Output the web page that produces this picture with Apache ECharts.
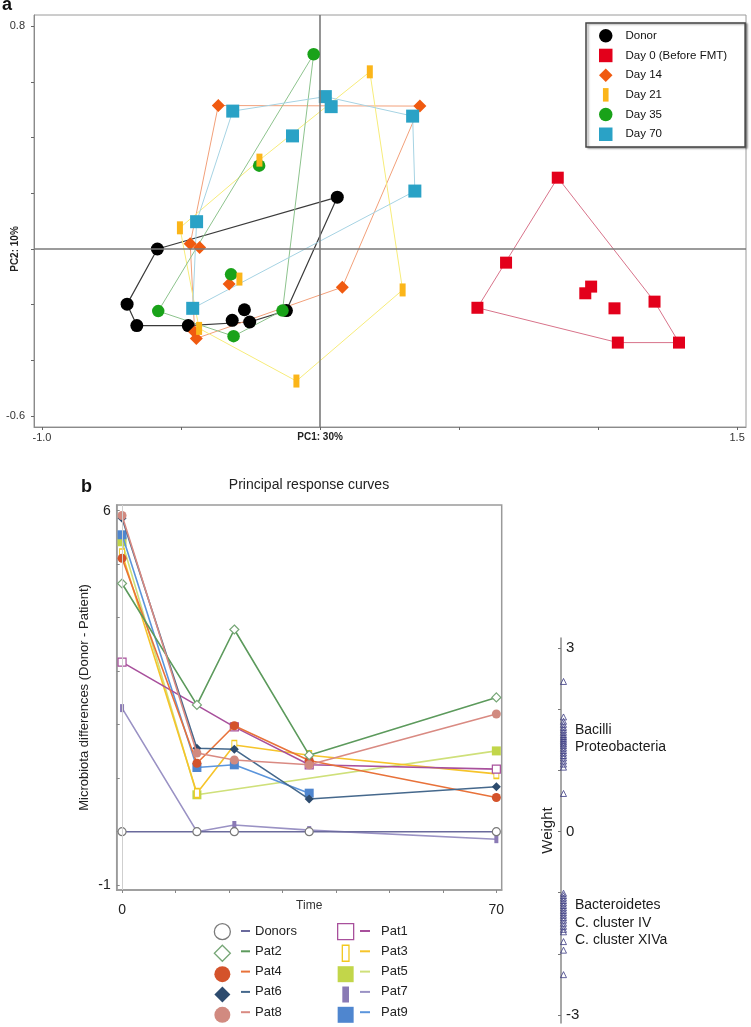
<!DOCTYPE html>
<html><head><meta charset="utf-8">
<script src="https://cdn.jsdelivr.net/npm/echarts@6/dist/echarts.min.js"></script>
<style>html,body{margin:0;padding:0;background:#fff}#c{width:751px;height:1027px}</style>
</head><body><div id="c"></div>
<script>
// ---------- Panel a: PCA scores ----------
const groupNames = ['Donor', 'Day 0 (Before FMT)', 'Day 14', 'Day 21', 'Day 35', 'Day 70'];
const donorPts = [[-0.585,0.0],[-0.694,-0.198],[-0.659,-0.275],[-0.474,-0.275],[-0.316,-0.256],[-0.272,-0.218],[-0.253,-0.262],[-0.121,-0.221],[0.062,0.186]];
const day0Pts = [[0.855,0.256],[0.669,-0.049],[0.566,-0.211],[0.975,-0.135],[0.954,-0.159],[1.059,-0.213],[1.203,-0.189],[1.071,-0.336],[1.291,-0.336]];
const day14Pts = [[-0.366,0.515],[0.359,0.513],[-0.467,0.019],[-0.433,0.005],[-0.327,-0.126],[0.080,-0.137],[-0.451,-0.298],[-0.445,-0.321]];
const day21Pts = [[0.179,0.636],[-0.218,0.319],[-0.504,0.076],[-0.290,-0.108],[0.297,-0.147],[-0.435,-0.285],[-0.085,-0.474]];
const day35Pts = [[-0.023,0.699],[-0.219,0.299],[-0.320,-0.091],[-0.582,-0.223],[-0.311,-0.313],[-0.135,-0.221]];
const day70Pts = [[-0.314,0.495],[0.019,0.547],[0.040,0.511],[0.333,0.477],[-0.099,0.406],[0.341,0.208],[-0.444,0.098],[-0.458,-0.213]];
const pcaXTicks = [-1, -0.5, 0, 0.5, 1, 1.5];
const pcaXLabels = [-1, 0, 1.5];
const pcaYTicks = [-0.6, -0.4, -0.2, 0, 0.2, 0.4, 0.6, 0.8];
const pcaYLabels = [-0.6, 0.8];

// ---------- Panel b: principal response curves ----------
const times = [0, 14, 21, 35, 70];
const donors = [0, 0, 0, 0, 0];
const pat1 = [3.17, null, 1.96, 1.25, 1.17];
const pat2 = [4.64, 2.37, 3.78, 1.43, 2.51];
const pat3 = [5.20, 0.72, 1.62, 1.43, 1.08];
const pat4 = [5.11, 1.28, 1.98, 1.33, 0.64];
const pat5 = [5.42, 0.69, null, null, 1.51];
const pat6 = [5.86, 1.56, 1.54, 0.61, 0.84];
const pat7 = [2.31, 0.00, 0.125, 0.03, -0.14];
const pat8 = [5.91, 1.47, 1.34, 1.25, 2.20];
const pat9 = [5.55, 1.20, 1.25, 0.72, null];
const prcYTicks = [-1, 0, 1, 2, 3, 4, 5, 6];
const prcYLabels = [-1, 6];
const prcXTicks = [0, 10, 20, 30, 40, 50, 60, 70];
const prcXLabels = [0, 70];

// ---------- Species weights ----------
const weights = [2.45, 1.87, 1.80, 1.75, 1.70, 1.66, 1.62, 1.58, 1.55, 1.52, 1.49, 1.46, 1.43, 1.40, 1.36, 1.32, 1.28, 1.24, 1.20, 1.15, 1.10, 1.05, 0.62,
  -1.01, -1.05, -1.09, -1.13, -1.17, -1.21, -1.25, -1.29, -1.33, -1.37, -1.41, -1.45, -1.50, -1.55, -1.60, -1.64, -1.80, -1.94, -2.34];
const taxonLabels = ['Bacilli', 'Proteobacteria', 'Bacteroidetes', 'C. cluster IV', 'C. cluster XIVa'];
const taxonWeights = [1.65, 1.38, -1.20, -1.50, -1.77];
const weightTicks = [-3, -2, -1, 0, 1, 2, 3];
const weightLabels = [-3, 0, 3];

// ---------- helpers ----------
function hull(pts) {
  const p = pts.slice().sort((a, b) => a[0] - b[0] || a[1] - b[1]);
  const cross = (o, a, b) => (a[0] - o[0]) * (b[1] - o[1]) - (a[1] - o[1]) * (b[0] - o[0]);
  const lower = [], upper = [];
  for (const q of p) { while (lower.length >= 2 && cross(lower[lower.length - 2], lower[lower.length - 1], q) <= 0) lower.pop(); lower.push(q); }
  for (let i = p.length - 1; i >= 0; i--) { const q = p[i]; while (upper.length >= 2 && cross(upper[upper.length - 2], upper[upper.length - 1], q) <= 0) upper.pop(); upper.push(q); }
  lower.pop(); upper.pop();
  const h = lower.concat(upper); h.push(h[0]); return h;
}
const FONT = 'Liberation Sans, Arial, sans-serif';

const pcaGroups = [
  { pts: donorPts, color: '#000000', line: '#3a3a3a', symbol: 'circle', size: 13, z: 3 },
  { pts: day0Pts, color: '#e3001b', line: '#d8738a', symbol: 'rect', size: 12, z: 3 },
  { pts: day14Pts, color: '#f05a10', line: '#f2a07a', symbol: 'diamond', size: 13, z: 4 },
  { pts: day21Pts, color: '#fbb519', line: '#f7ec7a', symbol: 'path://M0,0h5v12h-5z', size: [6, 13], z: 6 },
  { pts: day35Pts, color: '#19a219', line: '#8dc38d', symbol: 'circle', size: 12.5, z: 5 },
  { pts: day70Pts, color: '#2aa2c6', line: '#a6d3e3', symbol: 'rect', size: 13, z: 4 }
];
const legendIcons = ['circle', 'rect', 'diamond', 'path://M0,0h5v12h-5z', 'circle', 'rect'];

const series = [];
pcaGroups.forEach((g, i) => {
  const s = {
    type: 'line', xAxisIndex: 0, yAxisIndex: 0, data: hull(g.pts), showSymbol: false, symbol: 'none',
    lineStyle: { color: g.line, width: i === 0 ? 1.2 : 1 }, silent: true, z: 1, clip: false
  };
  if (i === 0) {
    s.markLine = { silent: true, symbol: 'none', label: { show: false }, lineStyle: { color: '#7a7a7a', width: 1.6, type: 'solid' },
      data: [{ xAxis: 0 }, { yAxis: 0 }] };
  }
  series.push(s);
});
pcaGroups.forEach((g, i) => {
  series.push({
    type: 'scatter', name: groupNames[i], xAxisIndex: 0, yAxisIndex: 0, data: g.pts,
    symbol: g.symbol, symbolSize: g.size, itemStyle: { color: g.color, opacity: 1 }, z: g.z, clip: false
  });
});

// panel b series
const prcDefs = [
  { name: 'Donors', vals: donors, symbol: 'circle', size: 8, fill: '#ffffff', border: '#7a7a7a', line: '#6a6a9c', open: true },
  { name: 'Pat1', vals: pat1, symbol: 'rect', size: 8, fill: '#ffffff', border: '#a8509c', line: '#a8509c', open: true },
  { name: 'Pat2', vals: pat2, symbol: 'diamond', size: 9, fill: '#ffffff', border: '#76a676', line: '#5c9a5c', open: true },
  { name: 'Pat3', vals: pat3, symbol: 'path://M0,0h5v12h-5z', size: [5, 9], fill: '#ffffff', border: '#f2c81e', line: '#f6c42a', open: true },
  { name: 'Pat4', vals: pat4, symbol: 'circle', size: 9, fill: '#d4532b', border: '#d4532b', line: '#e8723a' },
  { name: 'Pat5', vals: pat5, symbol: 'rect', size: 9, fill: '#c2d64a', border: '#c2d64a', line: '#cfe07a' },
  { name: 'Pat6', vals: pat6, symbol: 'diamond', size: 9, fill: '#2d4b6e', border: '#2d4b6e', line: '#45688c' },
  { name: 'Pat7', vals: pat7, symbol: 'path://M0,0h5v12h-5z', size: [4, 8], fill: '#8a7ab5', border: '#8a7ab5', line: '#9a92c4' },
  { name: 'Pat8', vals: pat8, symbol: 'circle', size: 9, fill: '#d18a80', border: '#d18a80', line: '#d98a82' },
  { name: 'Pat9', vals: pat9, symbol: 'rect', size: 9, fill: '#4f86cf', border: '#4f86cf', line: '#5b95dc' }
];
const drawOrder = ['Pat7', 'Pat5', 'Pat3', 'Pat9', 'Pat1', 'Pat4', 'Pat6', 'Pat2', 'Pat8', 'Donors'];
drawOrder.forEach((nm, k) => {
  const d = prcDefs.find(p => p.name === nm);
  const s = {
    type: 'line', name: d.name, xAxisIndex: 1, yAxisIndex: 1,
    data: times.map((t, i) => [t, d.vals[i]]).filter(v => v[1] !== null),
    symbol: d.symbol, symbolSize: d.size, showSymbol: true,
    lineStyle: { color: d.line, width: 1.6 },
    itemStyle: { color: d.fill, borderColor: d.border, borderWidth: d.open ? 1.2 : 0 },
    z: 2 + k * 0.1, clip: false
  };
  if (k === 0) {
    s.markLine = { silent: true, symbol: 'none', label: { show: false }, lineStyle: { color: '#cfcfcf', width: 1, type: 'solid' }, data: [{ xAxis: 0 }] };
  }
  series.push(s);
});

// weight strip
series.push({
  type: 'scatter', xAxisIndex: 2, yAxisIndex: 2, data: weights.map(w => [0.25, w]),
  symbol: 'triangle', symbolSize: 6, itemStyle: { color: 'rgba(255,255,255,0)', borderColor: '#3b3b82', borderWidth: 1 },
  clip: false, silent: true, z: 3
});
series.push({
  type: 'scatter', xAxisIndex: 2, yAxisIndex: 2,
  data: taxonWeights.map((w, i) => ({ value: [0.25, w], name: taxonLabels[i] })),
  symbolSize: 1, itemStyle: { color: '#ffffff' }, clip: false, silent: true, z: 1,
  label: { show: true, position: 'right', distance: 11, formatter: p => p.name, fontSize: 14, color: '#1a1a1a', opacity: 1, fontFamily: FONT }
});

const colA = ['Donors', 'Pat2', 'Pat4', 'Pat6', 'Pat8'];
const colB = ['Pat1', 'Pat3', 'Pat5', 'Pat7', 'Pat9'];
function symLegend(names, left) {
  return {
    orient: 'vertical', left: left, top: 923, itemWidth: 16, itemHeight: 16, itemGap: 4.3, padding: 0,
    selectedMode: false, formatter: () => '',
    data: names.map(n => {
      const d = prcDefs.find(p => p.name === n);
      return { name: n, icon: d.symbol, itemStyle: { color: d.open ? '#ffffff' : d.fill, borderColor: d.border, borderWidth: d.open ? 1.3 : 0 } };
    })
  };
}
function lineLegend(names, left, w, padLeft) {
  return {
    orient: 'vertical', left: left, top: 923, itemWidth: w, itemHeight: 2, itemGap: 4.3, padding: 0,
    selectedMode: false,
    textStyle: { fontSize: 13, color: '#222', fontFamily: FONT, lineHeight: 16, padding: [0, 0, 0, padLeft] },
    data: names.map(n => {
      const d = prcDefs.find(p => p.name === n);
      return { name: n, icon: 'rect', itemStyle: { color: d.line, borderWidth: 0 } };
    })
  };
}

const option = {
  animation: false,
  textStyle: { fontFamily: FONT },
  title: [
    { text: 'a', left: 2, top: -4, padding: 0, textStyle: { fontSize: 18, fontWeight: 'bold', color: '#111', fontFamily: FONT } },
    { text: 'b', left: 81, top: 478, padding: 0, textStyle: { fontSize: 18, fontWeight: 'bold', color: '#111', fontFamily: FONT } },
    { text: 'Principal response curves', left: 309, top: 478, padding: 0, textAlign: 'center', textStyle: { fontSize: 14, fontWeight: 'normal', color: '#222', fontFamily: FONT } }
  ],
  legend: [
    {
      orient: 'vertical', left: 586, top: 23, padding: [6, 18, 6, 13], itemWidth: 13.5, itemHeight: 13.5, itemGap: 6.2,
      borderColor: '#444', borderWidth: 1.5, backgroundColor: '#fff',
      shadowColor: 'rgba(0,0,0,0.35)', shadowBlur: 2, shadowOffsetX: 2, shadowOffsetY: 1,
      selectedMode: false, textStyle: { fontSize: 11.5, color: '#111', fontFamily: FONT, padding: [0, 0, 0, 8] },
      data: groupNames.map((n, i) => ({ name: n, icon: legendIcons[i] }))
    },
    symLegend(colA, 213.7), lineLegend(colA, 241, 9, 0),
    symLegend(colB, 337), lineLegend(colB, 360, 10, 6)
  ],
  grid: [
    { left: 34, top: 15, width: 712, height: 412, show: true, borderColor: '#9a9a9a', borderWidth: 1, backgroundColor: 'transparent' },
    { left: 116.7, top: 505, width: 385, height: 385, show: true, borderColor: '#9a9a9a', borderWidth: 1.5, backgroundColor: 'transparent' },
    { left: 561, top: 638, width: 10, height: 385, show: false }
  ],
  xAxis: [
    {
      gridIndex: 0, type: 'value', min: -1.0288, max: 1.532,
      axisLine: { show: true, onZero: false, lineStyle: { color: '#8a8a8a', width: 1 } },
      axisTick: { show: true, customValues: pcaXTicks, length: 3, lineStyle: { color: '#666' } },
      axisLabel: {
        show: true, customValues: pcaXLabels, margin: 5, fontSize: 11, color: '#333',
        formatter: v => (Math.abs(v) < 1e-9 ? '{b|PC1: 30%}' : v.toFixed(1)),
        rich: { b: { fontWeight: 'bold', fontSize: 10, color: '#222' } }
      },
      splitLine: { show: false }
    },
    {
      gridIndex: 1, type: 'value', min: -1, max: 71,
      axisLine: { show: true, onZero: false, lineStyle: { color: '#9a9a9a', width: 1.5 } },
      axisTick: { show: true, customValues: prcXTicks, length: 3, lineStyle: { color: '#888' } },
      axisLabel: { show: true, customValues: prcXLabels, margin: 13, fontSize: 14, color: '#222' },
      name: 'Time', nameLocation: 'middle', nameGap: 10, nameMoveOverlap: false, nameTextStyle: { fontSize: 12, color: '#333' },
      splitLine: { show: false }
    },
    { gridIndex: 2, type: 'value', min: 0, max: 1, show: false }
  ],
  yAxis: [
    {
      gridIndex: 0, type: 'value', min: -0.639, max: 0.840,
      axisLine: { show: true, onZero: false, lineStyle: { color: '#8a8a8a', width: 1 } },
      axisTick: { show: true, customValues: pcaYTicks, length: 3, lineStyle: { color: '#666' } },
      axisLabel: { show: true, customValues: pcaYLabels, margin: 9, fontSize: 11, color: '#333', formatter: v => v.toFixed(1) },
      splitLine: { show: false }
    },
    {
      gridIndex: 1, type: 'value', min: -1.09, max: 6.107,
      axisLine: { show: true, onZero: false, lineStyle: { color: '#9a9a9a', width: 1.5 } },
      axisTick: { show: true, inside: true, customValues: prcYTicks, length: 3, lineStyle: { color: '#888' } },
      axisLabel: { show: true, customValues: prcYLabels, margin: 6, fontSize: 14, color: '#222' },
      name: 'Microbiota differences (Donor - Patient)', nameLocation: 'middle', nameGap: 26, nameMoveOverlap: false,
      nameTextStyle: { fontSize: 13, color: '#222' },
      splitLine: { show: false }
    },
    {
      gridIndex: 2, type: 'value', min: -3.13, max: 3.16,
      axisLine: { show: true, onZero: false, lineStyle: { color: '#8a8a8a', width: 1.5 } },
      axisTick: { show: true, customValues: weightTicks, length: 3, lineStyle: { color: '#777' } },
      axisLabel: { show: true, inside: true, customValues: weightLabels, margin: 5, fontSize: 15, color: '#222' },
      name: 'Weight', nameLocation: 'middle', nameGap: 6, nameMoveOverlap: false, nameTextStyle: { fontSize: 15, color: '#222' },
      splitLine: { show: false }
    }
  ],
  series: series
};

const chart = echarts.init(document.getElementById('c'), null, { renderer: 'canvas' });
chart.setOption(option);
const zeroPx = chart.convertToPixel({ gridIndex: 0 }, [0, 0]);
chart.setOption({
  graphic: [{
    type: 'text', x: 15, y: zeroPx[1], rotation: Math.PI / 2,
    style: { text: 'PC2: 10%', font: 'bold 10px ' + FONT, fill: '#222', align: 'center', verticalAlign: 'middle' }
  }]
});
</script>
</body></html>
